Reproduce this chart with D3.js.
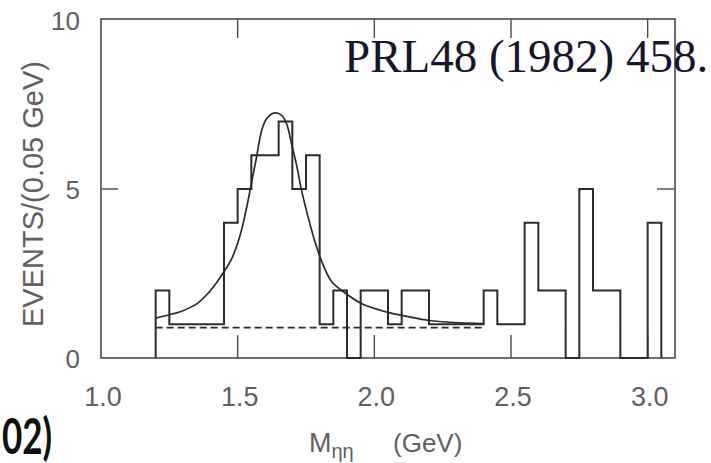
<!DOCTYPE html>
<html>
<head>
<meta charset="utf-8">
<script src="https://cdn.jsdelivr.net/npm/d3@7"></script>
<style>
  html, body { margin: 0; padding: 0; background: #ffffff; }
  svg { display: block; }
</style>
</head>
<body>
<svg id="chart" width="711" height="463"></svg>
<script>
// ---- data ----
const binLow = [1.20,1.25,1.30,1.35,1.40,1.45,1.50,1.55,1.60,1.65,1.70,1.75,1.80,1.85,1.90,1.95,
                2.00,2.05,2.10,2.15,2.20,2.25,2.30,2.35,2.40,2.45,2.50,2.55,2.60,2.65,2.70,2.75,
                2.80,2.85,2.90,2.95,3.00];
const counts = [2,1,1,1,1,4,5,6,6,7,5,6,1,2,0,2,
                2,1,2,2,1,1,1,1,2,1,1,4,2,2,0,5,
                2,2,0,0,4];
const binWidth = 0.05;

// fitted curve
const fitMass = [1.20,1.25,1.30,1.35,1.39,1.42,1.45,1.48,1.51,1.533,1.551,1.569,1.588,1.606,1.634,
                 1.661,1.679,1.697,1.716,1.734,1.758,1.782,1.807,1.843,1.892,1.96,2.05,2.12,2.20,2.29,2.40];
const fitValue = [1.18,1.28,1.40,1.60,1.90,2.20,2.55,2.97,3.66,4.46,5.20,5.94,6.74,7.08,7.25,
                  7.18,6.93,6.34,5.69,4.95,4.16,3.46,2.87,2.27,1.93,1.58,1.35,1.23,1.11,1.05,1.02];

// flat background (dashed)
const bgMass = [1.20, 2.40];
const bgValue = [0.9, 0.9];

const xTicks = [1.0, 1.5, 2.0, 2.5, 3.0];
const xTickLabels = ["1.0", "1.5", "2.0", "2.5", "3.0"];
const yTicks = [0, 5, 10];
const yTickLabels = ["0", "5", "10"];

// ---- drawing ----
const svg = d3.select("#chart");
const pLeft = 101, pRight = 675, pTop = 20, pBottom = 358;

const x = d3.scaleLinear().domain([1.0, 3.1]).range([pLeft, pRight]);
const y = d3.scaleLinear().domain([0, 10]).range([pBottom, pTop]);

const ink = "#2b2b2b";
const frameInk = "#4a4a4a";
const textInk = "#606060";

// frame
svg.append("rect")
  .attr("x", pLeft).attr("y", pTop - 1)
  .attr("width", pRight - pLeft).attr("height", pBottom - pTop + 1)
  .attr("fill", "none").attr("stroke", frameInk).attr("stroke-width", 1.6);

// inward ticks (bottom and top)
const gTicks = svg.append("g").attr("stroke", frameInk).attr("stroke-width", 1.4);
xTicks.filter(d => d > 1.0 && d < 3.1).forEach(d => {
  gTicks.append("line").attr("x1", x(d)).attr("x2", x(d)).attr("y1", pBottom).attr("y2", pBottom - 23);
  gTicks.append("line").attr("x1", x(d)).attr("x2", x(d)).attr("y1", pTop - 1).attr("y2", pTop + 18);
});
yTicks.filter(d => d > 0 && d < 10).forEach(d => {
  gTicks.append("line").attr("x1", pLeft).attr("x2", pLeft + 17).attr("y1", y(d)).attr("y2", y(d));
  gTicks.append("line").attr("x1", pRight).attr("x2", pRight - 18).attr("y1", y(d)).attr("y2", y(d));
});

// tick labels
const font = "'Liberation Sans', Arial, sans-serif";
svg.append("g").selectAll("text").data(xTicks).join("text")
  .attr("x", d => x(d) + 2)
  .attr("y", 406)
  .attr("text-anchor", "middle")
  .attr("font-family", font).attr("font-size", 27)
  .attr("fill", textInk)
  .text((d, i) => xTickLabels[i]);

svg.append("g").selectAll("text").data(yTicks).join("text")
  .attr("x", 80)
  .attr("y", d => y(d) + 10)
  .attr("text-anchor", "end")
  .attr("font-family", font).attr("font-size", 26)
  .attr("fill", textInk)
  .text((d, i) => yTickLabels[i]);

// y axis title
svg.append("text")
  .attr("transform", "translate(43,194) rotate(-90)")
  .attr("text-anchor", "middle")
  .attr("font-family", font).attr("font-size", 29)
  .attr("fill", textInk)
  .text("EVENTS/(0.05 GeV)");

// x axis title
const xt = svg.append("text")
  .attr("x", 309).attr("y", 452)
  .attr("font-family", font).attr("font-size", 27)
  .attr("fill", textInk);
xt.append("tspan").text("M");
xt.append("tspan").attr("font-size", 20).attr("dy", 6).text("ηη");
svg.append("text")
  .attr("x", 393).attr("y", 452)
  .attr("font-family", font).attr("font-size", 26)
  .attr("fill", textInk)
  .text("(GeV)");

// histogram outline
const histPts = [{m: binLow[0], v: 0}];
binLow.forEach((m, i) => histPts.push({m: m, v: counts[i]}));
const lastHi = binLow[binLow.length - 1] + binWidth;
histPts.push({m: lastHi, v: counts[counts.length - 1]});
histPts.push({m: lastHi, v: 0});

svg.append("path")
  .attr("d", d3.line().x(d => x(d.m)).y(d => y(d.v)).curve(d3.curveStepAfter)(histPts))
  .attr("fill", "none").attr("stroke", ink).attr("stroke-width", 2)
  .attr("stroke-linejoin", "miter");

// dashed background
svg.append("path")
  .attr("d", d3.line().x((d, i) => x(bgMass[i])).y((d, i) => y(bgValue[i]))(bgMass))
  .attr("fill", "none").attr("stroke", ink).attr("stroke-width", 1.6)
  .attr("stroke-dasharray", "7,4");

// fit curve
svg.append("path")
  .attr("d", d3.line().x((d, i) => x(fitMass[i])).y((d, i) => y(fitValue[i]))
    .curve(d3.curveCatmullRom.alpha(0.5))(fitMass))
  .attr("fill", "none").attr("stroke", ink).attr("stroke-width", 1.7);

// reference annotation
svg.append("text")
  .attr("x", 344).attr("y", 72)
  .attr("font-family", "'Liberation Serif', 'Times New Roman', serif")
  .attr("font-size", 47)
  .attr("fill", "#15152e")
  .text("PRL48 (1982) 458.");

// fragment of slide text at bottom-left
svg.append("text")
  .attr("transform", "translate(2,454) scale(0.7,1)")
  .attr("font-family", "Lato, 'Open Sans', sans-serif")
  .attr("font-weight", "bold")
  .attr("font-size", 50)
  .attr("fill", "#111")
  .text("02)");
</script>
</body>
</html>
